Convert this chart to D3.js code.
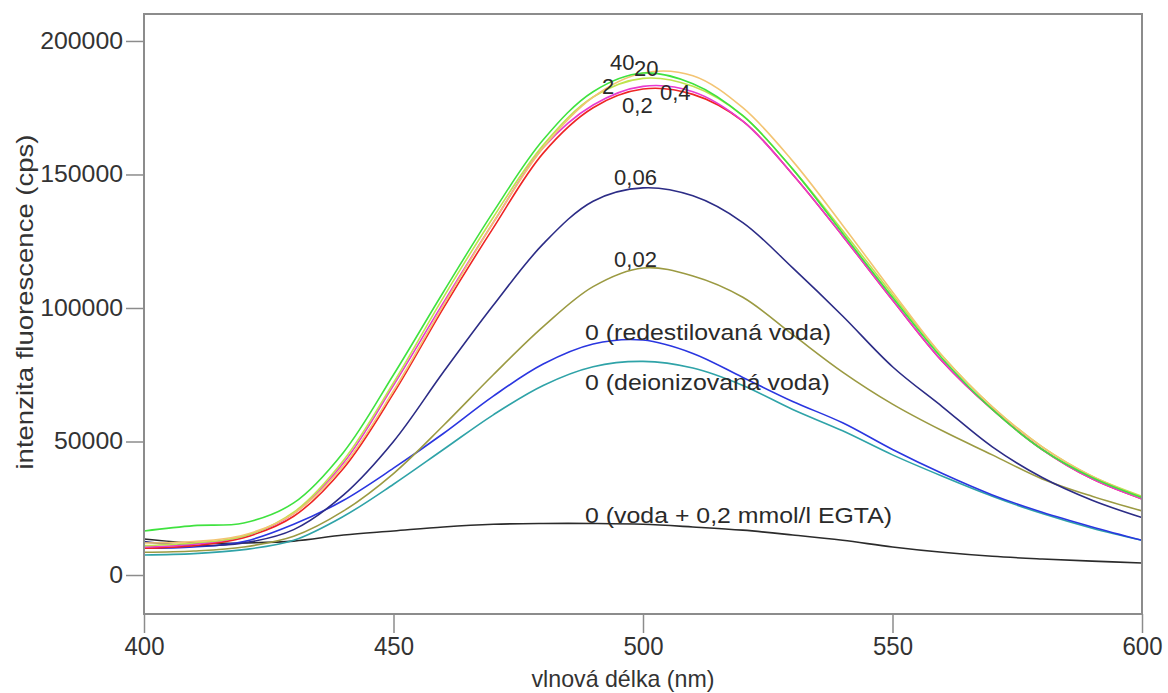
<!DOCTYPE html>
<html>
<head>
<meta charset="utf-8">
<script src="https://cdn.jsdelivr.net/npm/d3@7"></script>
<style>
  body { margin: 0; background: #fff; }
  svg { display: block; font-family: "Liberation Sans", Arial, sans-serif; }
</style>
</head>
<body>
<svg id="chart" width="1168" height="693"></svg>
<script>
// wavelengths (nm)
const wavelengths = [400, 410, 420, 430, 440, 450, 460, 470, 480, 490, 500, 510, 520, 530, 540, 550, 560, 570, 580, 590, 600];

// fluorescence intensity (cps)
const c40    = [16500, 18500, 19500, 27000, 46000, 75000, 106000, 136000, 163000, 181000, 188000, 184000, 172000, 152000, 128000, 104000, 81000, 62000, 47000, 36500, 29000];
const c20    = [12000, 12500, 15000, 23000, 41000, 69000, 101000, 132000, 160000, 179000, 188000, 187000, 175000, 155000, 131000, 106000, 82000, 63000, 48000, 37000, 29000];
const c2     = [11000, 12000, 14500, 23500, 43000, 72000, 104000, 134000, 161000, 179000, 186000, 183000, 172000, 152000, 129000, 105000, 82000, 63000, 48000, 37000, 29500];
const c04    = [10500, 11500, 14500, 23000, 42000, 71000, 102000, 132000, 160000, 176000, 183000, 181000, 170000, 150000, 127000, 103000, 80000, 62000, 47000, 36000, 28500];
const c02    = [10000, 11000, 14000, 22000, 40000, 68000, 100000, 130000, 158000, 175000, 182000, 180000, 170000, 150000, 127000, 103000, 80000, 62000, 47000, 36000, 28500];
const c006   = [12500, 11000, 12000, 17000, 30000, 50000, 76000, 101000, 124000, 140000, 145000, 142000, 132000, 115000, 97000, 78000, 63000, 48000, 36500, 28000, 21500];
const c002   = [8500, 9000, 10500, 14500, 24000, 38000, 56000, 75000, 93000, 108000, 115000, 112000, 104000, 90000, 76000, 64000, 54000, 45000, 36000, 29500, 24000];
const redest = [10000, 10500, 12500, 19000, 28000, 40000, 53000, 67000, 79000, 86500, 88000, 83000, 74000, 65000, 57000, 47000, 38000, 30000, 23500, 18000, 13000];
const deion  = [7500, 8000, 9500, 13000, 22000, 34000, 47000, 60000, 71000, 78000, 80000, 77500, 71000, 62000, 54000, 45000, 37000, 29500, 23000, 17500, 13000];
const egta   = [13500, 12000, 12000, 12700, 15000, 16500, 18000, 19000, 19300, 19300, 19000, 18000, 16800, 15000, 13000, 10500, 8500, 7000, 6000, 5200, 4500];

const seriesNames  = ["egta", "deion", "redest", "c002", "c006", "c02", "c04", "c2", "c20", "c40"];
const seriesValues = [egta, deion, redest, c002, c006, c02, c04, c2, c20, c40];
const seriesColors = ["#2b2b2b", "#2fa3a8", "#2a36e0", "#9b9a42", "#2c2c86", "#ee2424", "#e83ad0", "#bfe34c", "#f3c473", "#3fe23f"];

// curve annotations: text, wavelength, intensity (baseline-left of text)
const labelTexts = ["40", "20", "2", "0,4", "0,2", "0,06", "0,02", "0 (redestilovaná voda)", "0 (deionizovaná voda)", "0 (voda + 0,2 mmol/l EGTA)"];
const labelNm    = [493.4, 498.2, 491.8, 503.4, 495.8, 494.2, 494.2, 488.4, 488.4, 488.4];
const labelCps   = [189000, 187000, 180000, 178000, 173000, 146000, 115500, 88000, 69300, 19500];

const yTicks = [0, 50000, 100000, 150000, 200000];
const xTicks = [400, 450, 500, 550, 600];

const margin = {top: 14, right: 26, bottom: 79, left: 144};
const width = 1168, height = 693;

const svg = d3.select('#chart');

const x = d3.scaleLinear()
    .domain([400, 600])
    .range([margin.left, width - margin.right]);

const y = d3.scaleLinear()
    .domain([-14600, 210100])
    .range([height - margin.bottom, margin.top]);

// axes
const yAxis = d3.axisLeft(y)
    .tickValues(yTicks)
    .tickFormat(d3.format('d'))
    .tickSize(18)
    .tickPadding(2);

const xAxis = d3.axisBottom(x)
    .tickValues(xTicks)
    .tickFormat(d3.format('d'))
    .tickSize(19)
    .tickPadding(4);

const gy = svg.append('g')
    .attr('transform', `translate(${margin.left},0)`)
    .call(yAxis);
gy.select('.domain').remove();
gy.selectAll('.tick line').attr('stroke', '#8c8c8c').attr('stroke-width', 1.5);
gy.selectAll('.tick text')
    .attr('fill', '#333')
    .style('font-size', '23px')
    .attr('transform', 'scale(1.08,1)');
gy.selectAll('.tick text').attr('x', -21 / 1.08);

const gx = svg.append('g')
    .attr('transform', `translate(0,${height - margin.bottom})`)
    .call(xAxis);
gx.select('.domain').remove();
gx.selectAll('.tick line').attr('stroke', '#8c8c8c').attr('stroke-width', 1.5);
gx.selectAll('.tick text')
    .attr('fill', '#333')
    .style('font-size', '25px')
    .attr('textLength', 40)
    .attr('lengthAdjust', 'spacingAndGlyphs');

// clip for the lines
svg.append('clipPath').attr('id', 'clip')
    .append('rect')
    .attr('x', margin.left)
    .attr('y', margin.top)
    .attr('width', width - margin.right - margin.left)
    .attr('height', height - margin.bottom - margin.top);

const line = d3.line()
    .x((d, i) => x(wavelengths[i]))
    .y(d => y(d))
    .curve(d3.curveCatmullRom.alpha(0.5));

svg.append('g')
    .attr('clip-path', 'url(#clip)')
    .selectAll('path')
    .data(seriesValues)
    .join('path')
    .attr('fill', 'none')
    .attr('stroke', (d, i) => seriesColors[i])
    .attr('stroke-width', 1.6)
    .attr('d', line);

// frame
svg.append('rect')
    .attr('x', margin.left)
    .attr('y', margin.top)
    .attr('width', width - margin.right - margin.left)
    .attr('height', height - margin.bottom - margin.top)
    .attr('fill', 'none')
    .attr('stroke', '#8c8c8c')
    .attr('stroke-width', 2);

// annotations (long ones drawn a little wider, like the original)
svg.append('g')
    .selectAll('text')
    .data(labelTexts)
    .join('text')
    .attr('transform', (d, i) => {
        const s = d.length > 4 ? 1.13 : 1;
        return `translate(${x(labelNm[i])},${y(labelCps[i])}) scale(${s},1)`;
    })
    .attr('fill', '#2a2a2a')
    .style('font-size', '22px')
    .text(d => d);

// axis titles
svg.append('text')
    .attr('x', 623)
    .attr('y', 687)
    .attr('text-anchor', 'middle')
    .attr('fill', '#333')
    .style('font-size', '24px')
    .attr('textLength', 183)
    .attr('lengthAdjust', 'spacingAndGlyphs')
    .text('vlnová délka (nm)');

svg.append('text')
    .attr('transform', 'translate(33,302) rotate(-90)')
    .attr('text-anchor', 'middle')
    .attr('fill', '#333')
    .style('font-size', '24px')
    .attr('textLength', 335)
    .attr('lengthAdjust', 'spacingAndGlyphs')
    .text('intenzita fluorescence (cps)');
</script>
</body>
</html>
